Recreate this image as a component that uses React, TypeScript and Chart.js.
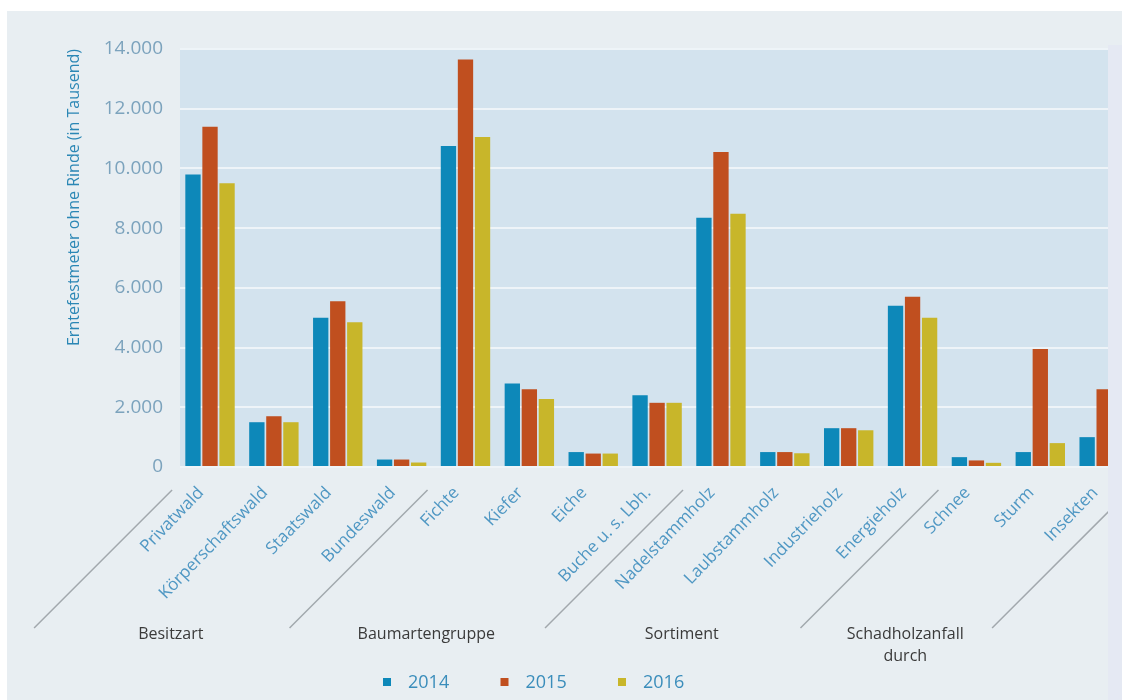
import React, { useEffect, useRef } from 'react';
import { Chart, registerables } from 'chart.js';

Chart.register(...registerables);

const categories = [
  'Privatwald', 'Körperschaftswald', 'Staatswald', 'Bundeswald',
  'Fichte', 'Kiefer', 'Eiche', 'Buche u. s. Lbh.',
  'Nadelstammholz', 'Laubstammholz', 'Industrieholz', 'Energieholz',
  'Schnee', 'Sturm', 'Insekten',
];
const values2014 = [9800, 1500, 5000, 250, 10750, 2800, 500, 2400, 8350, 500, 1300, 5400, 330, 500, 1000];
const values2015 = [11400, 1700, 5550, 250, 13650, 2600, 450, 2150, 10550, 500, 1300, 5700, 220, 3950, 2600];
const values2016 = [9500, 1500, 4850, 150, 11050, 2280, 450, 2150, 8480, 460, 1230, 5000, 140, 800, null];
const seriesLabels = ['2014', '2015', '2016'];
const seriesColors = ['#0d88b9', '#c04f1f', '#c8b62a'];
const groupNames = [['Besitzart'], ['Baumartengruppe'], ['Sortiment'], ['Schadholzanfall', 'durch']];
const groupSizes = [4, 4, 4, 3];
const yMax = 14000;
const yStep = 2000;
const yTitle = 'Erntefestmeter ohne Rinde (in Tausend)';

const FONT = '"Open Sans", "Noto Sans", sans-serif';

const fmt = (v: number) => String(v).replace(/\B(?=(\d{3})+(?!\d))/g, '.');

const decor = {
  id: 'decor',
  beforeDraw(chart: any) {
    const { ctx, chartArea: a } = chart;
    ctx.save();
    ctx.fillStyle = '#d3e3ee';
    ctx.fillRect(a.left, a.top, a.right - a.left, a.bottom - a.top);
    ctx.restore();
  },
  afterDraw(chart: any) {
    const { ctx, chartArea: a } = chart;
    const x = chart.scales.x;
    ctx.save();
    // group separator lines
    const bounds: number[] = [-0.5];
    let acc = 0;
    groupSizes.forEach((s) => { acc += s; bounds.push(acc - 0.5); });
    ctx.strokeStyle = '#a2a8ad';
    ctx.lineWidth = 1.5;
    bounds.forEach((b) => {
      const tx = x.getPixelForValue(b) - 6;
      const ty = a.bottom + 23;
      ctx.beginPath();
      ctx.moveTo(tx, ty);
      ctx.lineTo(tx - 138, ty + 138);
      ctx.stroke();
    });
    // group labels
    ctx.fillStyle = '#3a3a3a';
    ctx.font = `16px ${FONT}`;
    ctx.textAlign = 'center';
    ctx.textBaseline = 'middle';
    let idx = 0;
    groupNames.forEach((lines, g) => {
      const c = (x.getPixelForValue(idx) + x.getPixelForValue(idx + groupSizes[g] - 1)) / 2 - 135;
      lines.forEach((t, i) => ctx.fillText(t, c, a.bottom + 167 + i * 22));
      idx += groupSizes[g];
    });
    // legend
    const ly = 671;
    ctx.font = `18px ${FONT}`;
    ctx.textAlign = 'left';
    chart.data.datasets.forEach((ds: any, i: number) => {
      const cx = 380 + i * 117.5;
      ctx.fillStyle = ds.backgroundColor;
      ctx.fillRect(cx - 4, ly - 4, 8, 8);
      ctx.fillStyle = '#3a8dbb';
      ctx.fillText(ds.label, cx + 21, ly + 1);
    });
    ctx.restore();
  },
};

export default function App() {
  const ref = useRef<HTMLCanvasElement | null>(null);

  useEffect(() => {
    if (!ref.current) return;
    const series = [values2014, values2015, values2016];
    const chart = new Chart(ref.current, {
      type: 'bar',
      data: {
        datasets: series.map((vals, i) => ({
          label: seriesLabels[i],
          data: vals.map((v, j) => ({ x: j, y: v })),
          backgroundColor: seriesColors[i],
          borderWidth: 0,
          categoryPercentage: 0.8,
          barPercentage: 0.9,
        })),
      },
      options: {
        responsive: false,
        animation: false,
        layout: { padding: { top: 38, left: 0, right: 0, bottom: 0 } },
        plugins: { legend: { display: false }, tooltip: { enabled: false } },
        scales: {
          x: {
            type: 'linear',
            position: 'bottom',
            offset: false,
            min: -0.47,
            max: 14.06,
            grid: { display: false, offset: false },
            border: { display: false },
            afterFit: (s: any) => {
              s.height = 233;
              s.paddingLeft = 0;
              s.paddingRight = 0;
            },
            ticks: {
              stepSize: 1,
              includeBounds: false,
              autoSkip: false,
              minRotation: 46,
              maxRotation: 46,
              padding: 8,
              labelOffset: -9,
              color: '#4f97c3',
              font: { family: FONT, size: 17 },
              callback: (v: any) => (Number.isInteger(v) && categories[v] !== undefined ? categories[v] : ''),
            },
          },
          y: {
            min: 0,
            max: yMax,
            grid: { color: '#eef4f8', lineWidth: 2, drawTicks: false },
            border: { display: false },
            afterFit: (s: any) => { s.width = 173; },
            ticks: {
              stepSize: yStep,
              padding: 17,
              color: '#7ca3bd',
              font: { family: FONT, size: 19 },
              callback: (v: any) => fmt(Number(v)),
            },
            title: {
              display: true,
              text: yTitle,
              align: 'end',
              color: '#2b87b5',
              font: { family: FONT, size: 16 },
              padding: { top: 58, bottom: 0 },
            },
          },
        },
      },
      plugins: [decor],
    } as any);
    return () => chart.destroy();
  }, []);

  return (
    <div style={{ position: 'absolute', left: 0, top: 0, width: 1122, height: 700, background: '#ffffff', overflow: 'hidden' }}>
      <div style={{ position: 'absolute', left: 7, top: 11, width: 1115, height: 689, background: '#e8eef2' }} />
      <div style={{ position: 'absolute', left: 1108, top: 45, width: 14, height: 655, background: '#e5e9f3' }} />
      <div style={{ position: 'absolute', left: 7, top: 11, width: 1101, height: 689 }}>
        <canvas ref={ref} width={1101} height={689} style={{ display: 'block' }} />
      </div>
    </div>
  );
}
